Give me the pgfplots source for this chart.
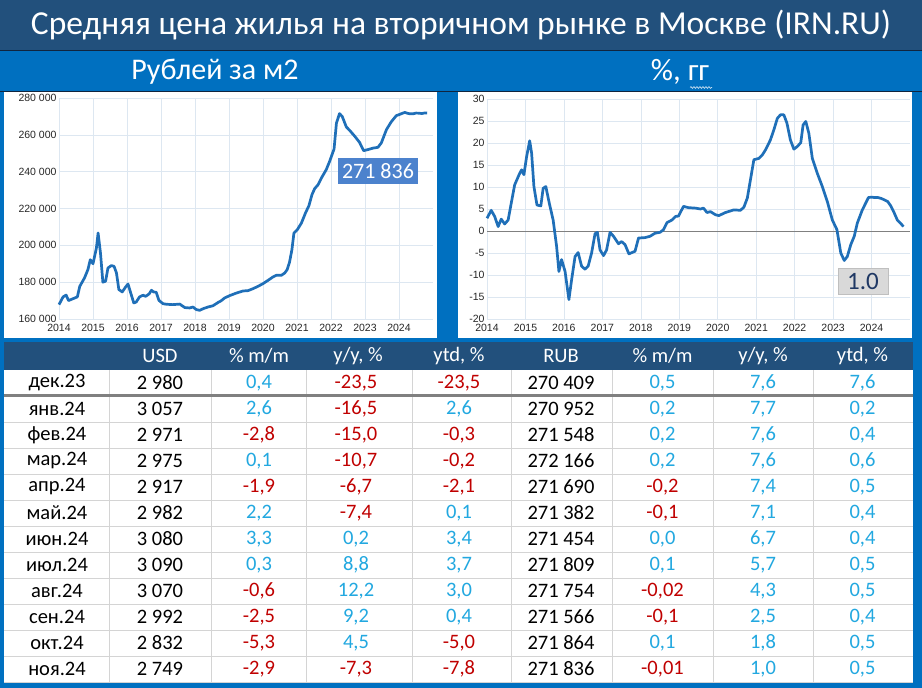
\documentclass[border=0pt]{standalone}
\usepackage{fontspec}
\setmainfont{Carlito}
\newfontfamily\tickfont{Liberation Sans}
\usepackage{pgfplots}
\pgfplotsset{compat=1.18}
\usetikzlibrary{decorations.pathmorphing}

\definecolor{titlebg}{HTML}{22507C}
\definecolor{bluebg}{HTML}{0070C0}
\definecolor{darkline}{HTML}{10253F}
\definecolor{lineclr}{HTML}{1F6FB8}
\definecolor{gridclr}{HTML}{DDE7F1}
\definecolor{posc}{HTML}{22A8E0}
\definecolor{negc}{HTML}{C00000}
\definecolor{boxblue}{HTML}{4C82CD}
\definecolor{boxgray}{HTML}{D9D9D9}
\definecolor{navytxt}{HTML}{1F3864}
\definecolor{cellline}{HTML}{D4D4D4}

% colour a table value by its sign
\def\vc#1{\vcx#1\relax}
\def\vcx#1#2\relax{\ifx-#1\textcolor{negc}{#1#2}\else\textcolor{posc}{#1#2}\fi}
\def\ry{0}
\newcommand\trow[9]{%
  \node at (57,\ry) {#1};
  \node at (160,\ry) {#2};
  \node at (259,\ry) {\vc{#3}};
  \node at (356,\ry) {\vc{#4}};
  \node at (459,\ry) {\vc{#5}};
  \node at (561,\ry) {#6};
  \node at (662.5,\ry) {\vc{#7}};
  \node at (763,\ry) {\vc{#8}};
  \node at (862.5,\ry) {\vc{#9}};
}

% x is read in years and shifted so that 2014 sits at 0
\pgfplotsset{
  panel/.style={
    scale only axis,
    x filter/.expression={x-2014},
    xmin=0, xmax=11,
    xtick={0,...,10},
    xticklabels={2014,2015,2016,2017,2018,2019,2020,2021,2022,2023,2024},
    axis line style={draw=none},
    tick style={draw=none},
    grid=major,
    grid style={gridclr, line width=0.6pt},
    tick label style={font=\tickfont\fontsize{10.5}{12}\selectfont, text=black!85},
    x tick label style={yshift=-2pt},
    y tick label style={xshift=1pt},
    scaled y ticks=false,
    clip=false,
  },
}

\begin{document}
\begin{tikzpicture}
\begin{scope}[x=1pt,y=1pt]
\useasboundingbox (0,0) rectangle (922,688);
\fill[bluebg] (0,0) rectangle (922,688);
\fill[titlebg] (0,638) rectangle (922,688);
\draw[darkline, line width=1.5pt] (0,637.5) -- (922,637.5);
\node[white, font=\fontsize{33.5}{38}\selectfont] at (461,663) {Средняя цена жилья на вторичном рынке в Москве (IRN.RU)};
\node[white, font=\fontsize{30}{34}\selectfont] at (215,616) {Рублей за м2};
\node[white, font=\fontsize{31}{34}\selectfont] at (680,616) {\%, гг};
\draw[white!75!bluebg, line width=0.7pt, decorate,
  decoration={snake, amplitude=0.9pt, segment length=3pt}] (690,600.5) -- (712,600.5);
\draw[darkline, line width=1.2pt] (0,596.5) -- (922,596.5);
\fill[white] (4,350) rectangle (437,596);
\fill[white] (458,350) rectangle (912,596);
\end{scope}

\begin{axis}[panel,
  at={(59pt,369pt)}, anchor=south west,
  width=374pt, height=221pt,
  ymin=160000, ymax=280000,
  ytick={160000,180000,200000,220000,240000,260000,280000},
  yticklabels={160 000,180 000,200 000,220 000,240 000,260 000,280 000},
]
\addplot[lineclr, line width=2.7pt, line join=round] coordinates {
(2014.00,167800)(2014.12,172000)(2014.21,173000)(2014.28,170000)(2014.41,171000)
(2014.54,172000)(2014.61,177700)(2014.75,182300)(2014.85,186800)(2014.92,192200)
(2015.00,190000)(2015.10,198500)(2015.15,206700)(2015.22,195800)(2015.29,180000)
(2015.37,180500)(2015.44,187700)(2015.54,189000)(2015.62,188600)(2015.69,185000)
(2015.76,176000)(2015.86,174700)(2015.96,177400)(2016.03,179000)(2016.11,174100)
(2016.20,168700)(2016.27,169200)(2016.37,172000)(2016.47,172900)(2016.55,172300)
(2016.65,173600)(2016.72,175600)(2016.78,174700)(2016.86,174500)(2016.94,170100)
(2017.06,168300)(2017.16,168000)(2017.35,167800)(2017.55,168100)(2017.70,166200)
(2017.84,166000)(2017.94,166500)(2018.04,165100)(2018.14,164700)(2018.24,165600)
(2018.38,166500)(2018.53,167200)(2018.68,169000)(2018.77,169900)(2018.87,171400)
(2019.02,172700)(2019.22,174100)(2019.41,175200)(2019.56,175400)(2019.71,176500)
(2019.85,177700)(2020.00,179200)(2020.15,181000)(2020.29,182800)(2020.39,183700)
(2020.54,183700)(2020.64,185000)(2020.71,186800)(2020.78,190800)(2020.85,197600)
(2020.91,206700)(2021.01,208500)(2021.13,212100)(2021.25,217600)(2021.35,221500)
(2021.44,227500)(2021.52,230800)(2021.62,232900)(2021.72,236600)(2021.86,241100)
(2021.96,245600)(2022.09,252300)(2022.16,266400)(2022.25,271500)(2022.33,270000)
(2022.45,264300)(2022.55,262400)(2022.70,259200)(2022.84,255900)(2022.96,251400)
(2023.09,252000)(2023.24,252800)(2023.38,253200)(2023.48,255600)(2023.63,262800)
(2023.77,267000)(2023.92,270409)(2024.00,270952)(2024.08,271548)(2024.17,272166)
(2024.25,271690)(2024.33,271382)(2024.42,271454)(2024.50,271809)(2024.58,271754)
(2024.67,271566)(2024.75,271864)(2024.83,271836)
};
\end{axis}

\begin{axis}[panel,
  at={(487pt,369pt)}, anchor=south west,
  width=423pt, height=220pt,
  ymin=-20, ymax=30,
  ytick={-20,-15,-10,-5,0,5,10,15,20,25,30},
  yticklabels={-20,-15,-10,-5,0,5,10,15,20,25,30},
  extra y ticks={0},
  extra y tick labels={},
  extra y tick style={grid style={gray, line width=0.9pt}},
]
\addplot[lineclr, line width=2.7pt, line join=round] coordinates {
(2014.00,2.9)(2014.11,4.7)(2014.20,3.3)(2014.29,1.0)(2014.37,2.7)(2014.46,1.6)
(2014.55,2.5)(2014.63,6.3)(2014.72,10.5)(2014.85,13.1)(2014.90,13.9)(2014.96,12.8)
(2015.03,16.9)(2015.11,20.5)(2015.16,17.7)(2015.22,10.1)(2015.30,5.9)(2015.40,5.7)
(2015.46,9.7)(2015.53,10.1)(2015.62,6.3)(2015.72,2.5)(2015.81,-3.5)(2015.87,-9.2)
(2015.94,-6.5)(2016.03,-9.2)(2016.13,-15.6)(2016.20,-11.1)(2016.29,-5.8)(2016.37,-4.9)
(2016.46,-8.0)(2016.55,-8.7)(2016.63,-8.0)(2016.72,-5.0)(2016.81,-0.6)(2016.87,-0.3)
(2016.94,-4.3)(2017.03,-5.6)(2017.11,-4.3)(2017.20,-0.3)(2017.29,-1.2)(2017.42,-2.9)
(2017.50,-2.4)(2017.59,-3.1)(2017.69,-5.2)(2017.85,-4.6)(2017.94,-1.6)(2018.11,-1.5)
(2018.24,-1.2)(2018.37,-0.5)(2018.50,-0.3)(2018.59,0.3)(2018.68,1.9)(2018.81,2.5)
(2018.90,3.3)(2018.98,3.4)(2019.11,5.6)(2019.24,5.3)(2019.42,5.2)(2019.55,5.0)
(2019.63,5.2)(2019.72,4.2)(2019.81,4.4)(2019.94,3.7)(2020.03,3.5)(2020.20,4.2)
(2020.42,4.8)(2020.59,4.7)(2020.68,5.4)(2020.77,7.5)(2020.85,11.6)(2020.94,16.2)
(2021.07,16.5)(2021.16,17.3)(2021.24,18.4)(2021.37,20.7)(2021.46,23.0)(2021.55,25.6)
(2021.63,26.4)(2021.72,26.4)(2021.80,24.5)(2021.89,20.7)(2021.98,18.6)(2022.07,19.2)
(2022.16,20.1)(2022.22,24.1)(2022.29,24.9)(2022.37,22.2)(2022.46,16.5)(2022.59,13.1)
(2022.72,10.1)(2022.85,6.7)(2022.98,2.5)(2023.10,0.3)(2023.20,-5.0)(2023.29,-6.7)
(2023.37,-5.8)(2023.46,-3.1)(2023.55,-1.2)(2023.63,1.8)(2023.76,4.8)(2023.92,7.6)
(2024.00,7.7)(2024.08,7.6)(2024.17,7.6)(2024.25,7.4)(2024.33,7.1)(2024.42,6.7)
(2024.50,5.7)(2024.58,4.3)(2024.67,2.5)(2024.75,1.8)(2024.83,1.0)
};
\end{axis}

\begin{scope}[x=1pt,y=1pt]
\node[fill=boxblue, text=white, font=\fontsize{22}{25}\selectfont,
  minimum width=80pt, minimum height=26pt, inner sep=0pt] at (378,517) {271 836};
\node[fill=boxgray, draw=black!25, text=navytxt, font=\fontsize{25}{28}\selectfont,
  minimum width=50pt, minimum height=26pt, inner sep=0pt] at (863,407) {1.0};

% table
\fill[white] (4,6) rectangle (913,318);
\fill[titlebg] (4,318) rectangle (913,346);
\foreach \k in {1,...,11} {
  \draw[cellline, line width=0.8pt] (4,{292-26*\k}) -- (913,{292-26*\k});
}
\foreach \xx in {109,211,306,412,511,612,713,813} {
  \draw[cellline, line width=0.8pt] (\xx,6) -- (\xx,318);
}
\draw[black!50, line width=2.6pt] (4,292.5) -- (913,292.5);

\begin{scope}[every node/.style={font=\fontsize{20.5}{23}\selectfont, text=white}]
\def\ry{332}
\node at (160,\ry) {USD};
\node at (259,\ry) {\% m/m};
\node at (358,\ry) {y/y, \%};
\node at (459,\ry) {ytd, \%};
\node at (561,\ry) {RUB};
\node at (662.5,\ry) {\% m/m};
\node at (763,\ry) {y/y, \%};
\node at (862.5,\ry) {ytd, \%};
\end{scope}

\begin{scope}[every node/.style={font=\fontsize{20.5}{23}\selectfont, text=black}]
\def\ry{305}\trow{дек.23}{2 980}{0,4}{-23,5}{-23,5}{270 409}{0,5}{7,6}{7,6}
\def\ry{279}\trow{янв.24}{3 057}{2,6}{-16,5}{2,6}{270 952}{0,2}{7,7}{0,2}
\def\ry{253}\trow{фев.24}{2 971}{-2,8}{-15,0}{-0,3}{271 548}{0,2}{7,6}{0,4}
\def\ry{227}\trow{мар.24}{2 975}{0,1}{-10,7}{-0,2}{272 166}{0,2}{7,6}{0,6}
\def\ry{201}\trow{апр.24}{2 917}{-1,9}{-6,7}{-2,1}{271 690}{-0,2}{7,4}{0,5}
\def\ry{175}\trow{май.24}{2 982}{2,2}{-7,4}{0,1}{271 382}{-0,1}{7,1}{0,4}
\def\ry{149}\trow{июн.24}{3 080}{3,3}{0,2}{3,4}{271 454}{0,0}{6,7}{0,4}
\def\ry{123}\trow{июл.24}{3 090}{0,3}{8,8}{3,7}{271 809}{0,1}{5,7}{0,5}
\def\ry{97}\trow{авг.24}{3 070}{-0,6}{12,2}{3,0}{271 754}{-0,02}{4,3}{0,5}
\def\ry{71}\trow{сен.24}{2 992}{-2,5}{9,2}{0,4}{271 566}{-0,1}{2,5}{0,4}
\def\ry{45}\trow{окт.24}{2 832}{-5,3}{4,5}{-5,0}{271 864}{0,1}{1,8}{0,5}
\def\ry{19}\trow{ноя.24}{2 749}{-2,9}{-7,3}{-7,8}{271 836}{-0,01}{1,0}{0,5}
\end{scope}
\end{scope}
\end{tikzpicture}
\end{document}
